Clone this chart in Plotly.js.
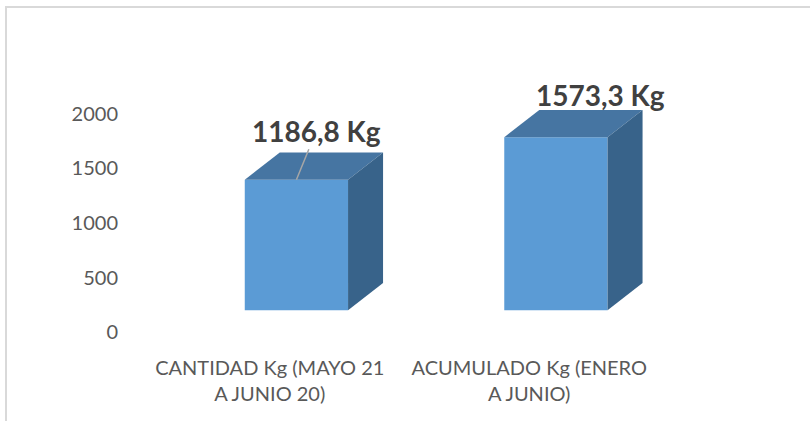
<!DOCTYPE html>
<html>
<head>
<meta charset="utf-8">
<script src="https://cdn.plot.ly/plotly-3.0.1.min.js"></script>
<style>
  html, body { margin: 0; padding: 0; background: #ffffff; }
  #wrap { position: relative; width: 810px; height: 421px; overflow: hidden; }
  #frame { position: absolute; left: 5px; top: 6px; width: 830px; height: 440px;
           border-top: 2px solid #d9d9d9; border-left: 2px solid #d9d9d9; }
  #chart { position: absolute; left: 0; top: 0; width: 810px; height: 421px; }
</style>
</head>
<body>
<div id="wrap">
  <div id="frame"></div>
  <div id="chart"></div>
</div>
<script>
// ---- data ----
const categories = ["CANTIDAD Kg (MAYO 21<br>A JUNIO 20)", "ACUMULADO Kg (ENERO<br>A JUNIO)"];
const values = [1186.8, 1573.3];
const valueLabels = ["1186,8 Kg", "1573,3 Kg"];
const yTickVals = [0, 500, 1000, 1500, 2000];
const yTickText = ["0", "500", "1000", "1500", "2000"];

// ---- pseudo-3D projection settings (data units) ----
const BAR_SHIFT = 0.1027;   // bars sit behind the front axis plane
const HALF_W = 0.199;
const DEPTH_X = 0.1349;
const DEPTH_Y = 249;
const FLOOR = 200;
const PERSP = 1.007;

const COL_FRONT = "#5b9bd5";
const COL_TOP = "#4675a2";
const COL_SIDE = "#38638a";

const xIdx = categories.map((c, i) => i);
const traces = [];

// front faces
traces.push({
  type: "bar",
  x: xIdx.map(i => i + BAR_SHIFT),
  y: values.map(v => v * PERSP),
  base: values.map(() => FLOOR),
  width: values.map(() => 2 * HALF_W),
  marker: { color: COL_FRONT, line: { width: 0 } },
  hoverinfo: "skip",
  showlegend: false
});

// top and side faces
values.forEach((v, i) => {
  const xl = i + BAR_SHIFT - HALF_W;
  const xr = i + BAR_SHIFT + HALF_W;
  const top = FLOOR + v * PERSP;
  traces.push({
    type: "scatter", mode: "none", fill: "toself", fillcolor: COL_TOP,
    x: [xl, xr, xr + DEPTH_X, xl + DEPTH_X, xl],
    y: [top, top, top + DEPTH_Y, top + DEPTH_Y, top],
    hoverinfo: "skip", showlegend: false
  });
  traces.push({
    type: "scatter", mode: "none", fill: "toself", fillcolor: COL_SIDE,
    x: [xr, xr + DEPTH_X, xr + DEPTH_X, xr, xr],
    y: [FLOOR, FLOOR + DEPTH_Y, top + DEPTH_Y, top, FLOOR],
    hoverinfo: "skip", showlegend: false
  });
});

const labelFont = { family: "Lato, 'Open Sans', sans-serif", size: 28, color: "#404040" };
const annotations = [
  {
    x: 0 + BAR_SHIFT, y: FLOOR + values[0] * PERSP,
    xref: "x", yref: "y",
    text: "<b>" + valueLabels[0] + "</b>",
    showarrow: true, arrowhead: 0, arrowwidth: 1.5, arrowcolor: "#a6a6a6",
    ax: 20, ay: -49,
    font: labelFont
  },
  {
    x: 1 + BAR_SHIFT + DEPTH_X, y: FLOOR + values[1] * PERSP + DEPTH_Y,
    xref: "x", yref: "y",
    text: "<b>" + valueLabels[1] + "</b>",
    showarrow: false, xanchor: "center", yanchor: "middle",
    xshift: 10, yshift: 15,
    font: labelFont
  }
];

const layout = {
  width: 810, height: 421,
  margin: { l: 140, r: 151, t: 70, b: 67 },
  paper_bgcolor: "rgba(0,0,0,0)",
  plot_bgcolor: "rgba(0,0,0,0)",
  showlegend: false,
  barmode: "overlay",
  font: { family: "Lato, 'Open Sans', sans-serif", color: "#595959", size: 20 },
  xaxis: {
    range: [-0.5, 1.5],
    tickmode: "array", tickvals: xIdx, ticktext: categories,
    showgrid: false, zeroline: false, showline: false, ticks: "",
    tickfont: { size: 20, color: "#595959" },
    fixedrange: true
  },
  yaxis: {
    range: [-200, 2400],
    tickmode: "array", tickvals: yTickVals, ticktext: yTickText,
    showgrid: false, zeroline: false, showline: false, ticks: "",
    ticklabelstandoff: 21,
    tickfont: { size: 20, color: "#595959" },
    fixedrange: true
  },
  annotations: annotations
};

Plotly.newPlot("chart", traces, layout, { displayModeBar: false, staticPlot: true });
</script>
</body>
</html>
